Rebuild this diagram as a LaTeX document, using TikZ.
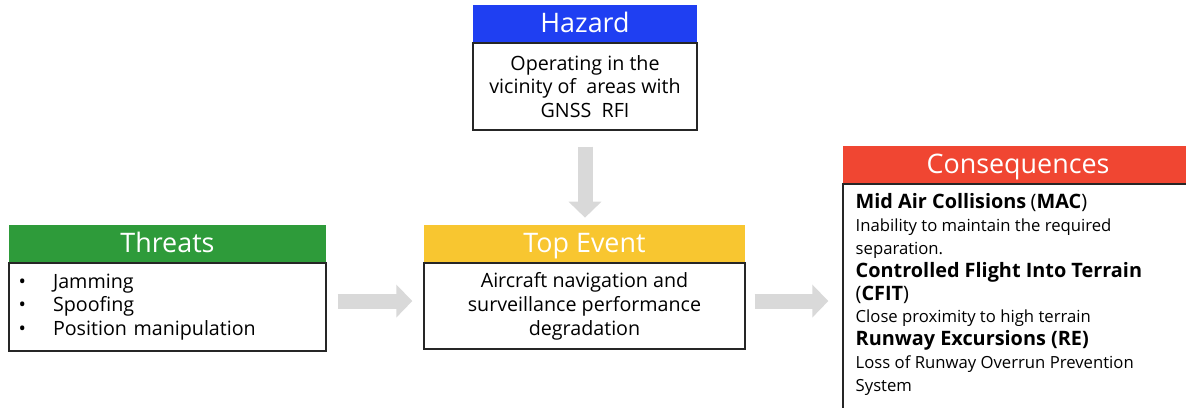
\documentclass[tikz,border=0pt]{standalone}
\usepackage{fontspec}
\setmainfont{Open Sans}
\usepackage{xcolor}
\usetikzlibrary{positioning, arrows.meta}
\definecolor{hazardblue}{HTML}{1F3FF2}
\definecolor{threatgreen}{HTML}{2E9B3A}
\definecolor{topyellow}{HTML}{F8C630}
\definecolor{consred}{HTML}{F04632}
\definecolor{flowgrey}{HTML}{D9D9D9}

\begin{document}
\begin{tikzpicture}[x=0.02cm, y=-0.02cm,
  head/.style={minimum height=0.74cm, inner sep=0pt, text=white,
    text height=14.3pt, text depth=3.7pt,
    font=\fontsize{15.3}{18}\selectfont},
  body/.style={draw=black!85, line width=0.8pt, inner sep=0pt,
    align=center, font=\fontsize{11.2}{13.6}\selectfont},
  flow/.style={draw=flowgrey, line width=0.3cm,
    -{Triangle[length=0.32cm, width=0.64cm]}}
]
\clip (0,0) rectangle (1186,407);

% hazard
\node[head, fill=hazardblue, minimum width=4.48cm] (hazhead) at (585,23.5) {Hazard};
\node[body, minimum width=4.48cm, minimum height=1.74cm, below=0pt of hazhead] (hazbody)
  {Operating in the\\vicinity of~ areas with\\GNSS~ RFI};

% threats
\node[head, fill=threatgreen, minimum width=6.34cm] (thrhead) at (167.5,243.5) {Threats};
\node[body, minimum width=6.34cm, minimum height=1.76cm, below=0pt of thrhead,
  align=left, inner xsep=0.19cm, text width=5.96cm] (thrbody)
  {\makebox[0.69cm][l]{\textbullet}Jamming\\
   \makebox[0.69cm][l]{\textbullet}Spoofing\\
   \makebox[0.69cm][l]{\textbullet}Position manipulation};

% top event
\node[head, fill=topyellow, minimum width=6.42cm] (tophead) at (584.5,243.5) {Top Event};
\node[body, minimum width=6.42cm, minimum height=1.72cm, below=0pt of tophead] (topbody)
  {Aircraft navigation and\\surveillance performance\\degradation};

% consequences
\node[head, fill=consred, minimum width=7cm] (conhead) at (1018,164.5) {Consequences};
\node[body, minimum width=7cm, minimum height=4.8cm, below=0pt of conhead] (conbody) {};
\node[align=left, inner sep=0pt, font=\fontsize{9.5}{13}\selectfont,
  below right=0.2cm and 0.26cm of conbody.north west] (context)
  {{\fontsize{11.3}{13}\selectfont\bfseries Mid Air Collisions} {\fontsize{11.3}{13}\selectfont(\textbf{MAC})}\\
   Inability to maintain the required\\
   separation.\\
   {\fontsize{11.3}{13}\selectfont\bfseries Controlled Flight Into Terrain}\\
   {\fontsize{11.3}{13}\selectfont(\textbf{CFIT})}\\
   Close proximity to high terrain\\
   {\fontsize{11.3}{13}\selectfont\bfseries Runway Excursions (RE)}\\
   Loss of Runway Overrun Prevention\\
   System};

% flow arrows
\draw[flow, shorten <=0.32cm, shorten >=0.14cm] (hazbody.south) -- (hazbody.south |- tophead.north);
\draw[flow, shorten <=0.22cm, shorten >=0.22cm]
  ([yshift=0.12cm]thrbody.east) -- ([yshift=0.12cm]thrbody.east -| topbody.west);
\draw[flow, shorten <=0.18cm, shorten >=0.28cm]
  ([yshift=0.1cm]topbody.east) -- ([yshift=0.1cm]topbody.east -| conbody.west);

\end{tikzpicture}
\end{document}
